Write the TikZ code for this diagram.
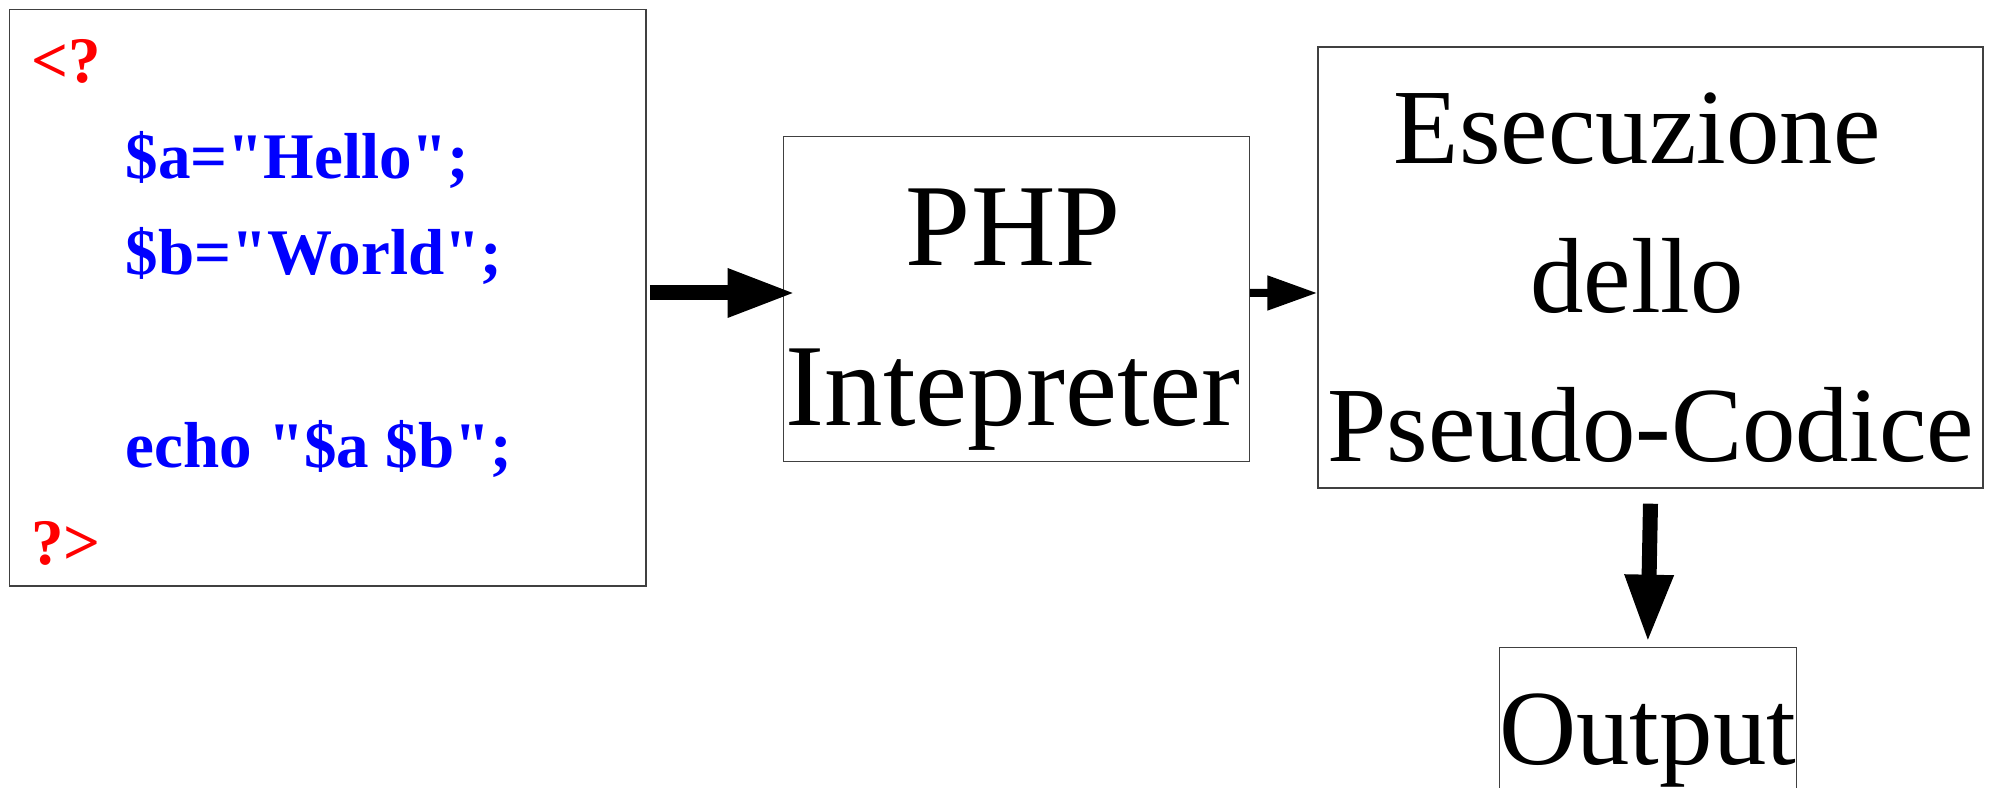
\documentclass[tikz,border=0pt]{standalone}
\usepackage{fontspec}
\setmainfont{Liberation Serif}[Ligatures=TeXOff]
\usetikzlibrary{arrows.meta}

\tikzset{
  box/.style={draw=black!75, line width=0.4pt, inner sep=0pt},
  codeline/.style={anchor=base west, inner sep=0pt, font=\bfseries\fontsize{18.5}{22}\selectfont},
  bigtext/.style={anchor=north, inner sep=0pt, align=center},
  bigarrow/.style={line width=1.5mm, -{Triangle[length=6.8mm, width=4.5mm]}},
  smallarrow/.style={line width=0.8mm, -{Triangle[length=5mm, width=3.3mm]}},
}

\begin{document}
\begin{tikzpicture}
  \useasboundingbox (0,0) rectangle (19.91,7.88);
  \clip (0,0) rectangle (19.91,7.88);

  % the php source
  \node[box, minimum width=6.367cm, minimum height=5.767cm] (src) at (3.277,4.903) {};
  \foreach \row/\ind/\col/\txt in {0/0/red/{<?}, 1/1/blue/{\$a="Hello";}, 2/1/blue/{\$b="World";}, 4/1/blue/{echo "\$a \$b";}, 5/0/red/{?>}}
    \node[codeline, text=\col] (line\row) at ([shift={({0.217+0.945*\ind},{-0.734-0.9645*\row})}]src.north west) {\txt};

  % interpreter
  \node[box, minimum width=4.66cm, minimum height=3.25cm] (php) at (10.163,4.888) {};
  \node[bigtext, font=\fontsize{33.3}{45.7}\selectfont] (phplbl) at ([xshift=-0.03cm, yshift=-0.518cm]php.north) {PHP\\Intepreter};

  % execution (first two lines keep a trailing space)
  \node[box, minimum width=6.65cm, minimum height=4.41cm] (exec) at (16.505,5.205) {};
  \node[bigtext, font=\fontsize{30.4}{42.4}\selectfont] (execlbl) at ([yshift=-0.455cm]exec.north) {Esecuzione\kern.25em\\dello\kern.25em\\Pseudo-Codice};

  % output, cut by the page edge
  \node[box, minimum width=2.97cm, minimum height=2cm, anchor=north] (out) at (16.478,1.413) {};
  \node[anchor=base, inner sep=0pt, font=\fontsize{30.4}{36}\selectfont] (outlbl) at ([yshift=-1.183cm]out.north) {Output};

  \draw[bigarrow] ([shift={(0.03,0.047)}]src.east) -- ([shift={(0.13,0.062)}]php.west);
  \draw[smallarrow] ([yshift=0.62mm]php.east) -- ([yshift=-2.55mm]exec.west);
  \draw[bigarrow] ([yshift=-1.5mm]exec.south) -- ([yshift=0.4mm]out.north);
\end{tikzpicture}
\end{document}
